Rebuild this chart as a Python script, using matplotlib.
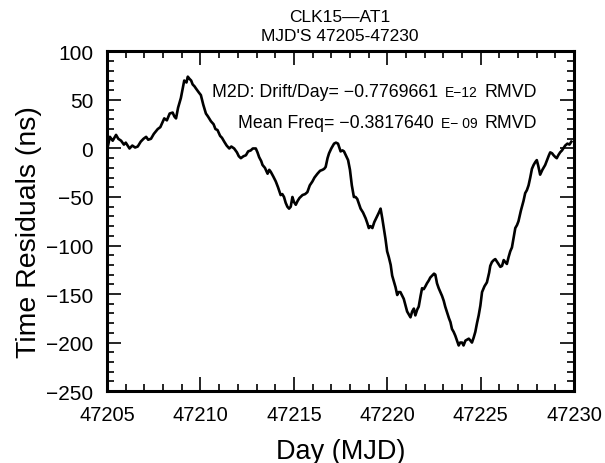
import matplotlib.pyplot as plt
from matplotlib.offsetbox import TextArea, HPacker, AnnotationBbox
from matplotlib.ticker import MultipleLocator

plt.rcParams['font.family'] = ['Liberation Sans', 'DejaVu Sans']

# days after MJD 47205
day = [0.05, 0.15, 0.3, 0.48, 0.6, 0.75, 0.9, 1.0, 1.2, 1.35, 1.5, 1.64, 1.8, 1.95,
       2.09, 2.2, 2.35, 2.5, 2.71, 2.85, 3.06, 3.2, 3.35, 3.51, 3.6, 3.69, 3.8, 3.95,
       4.05, 4.13, 4.25, 4.32, 4.4, 4.5, 4.58, 4.68, 4.75, 4.9, 5.02, 5.15, 5.29, 5.4,
       5.56, 5.7, 5.8, 5.91, 6.05, 6.15, 6.27, 6.4, 6.54, 6.65, 6.8, 6.95, 7.05, 7.16,
       7.3, 7.43, 7.55, 7.69, 7.8, 7.96, 8.05, 8.14, 8.25, 8.32, 8.45, 8.59, 8.68, 8.76,
       8.9, 9.03, 9.15, 9.29, 9.38, 9.47, 9.56, 9.65, 9.74, 9.83, 9.92, 10.0, 10.1, 10.2,
       10.3, 10.46, 10.6, 10.72, 10.85, 10.99, 11.1, 11.26, 11.4, 11.53, 11.62, 11.7,
       11.8, 11.88, 12.0, 12.15, 12.25, 12.36, 12.45, 12.5, 12.6, 12.68, 12.8, 12.9,
       13.0, 13.1, 13.21, 13.3, 13.39, 13.5, 13.57, 13.7, 13.84, 13.93, 14.01, 14.1,
       14.2, 14.3, 14.45, 14.55, 14.64, 14.73, 14.9, 14.99, 15.08, 15.18, 15.26, 15.35,
       15.44, 15.53, 15.6, 15.7, 15.8, 15.88, 15.98, 16.06, 16.15, 16.24, 16.33, 16.42,
       16.5, 16.6, 16.68, 16.78, 16.86, 16.95, 17.04, 17.12, 17.22, 17.3, 17.4, 17.5,
       17.57, 17.66, 17.75, 17.84, 17.93, 18.02, 18.1, 18.2, 18.3, 18.38, 18.46, 18.55,
       18.64, 18.73, 18.82, 18.9, 19.0, 19.08, 19.18, 19.27, 19.36, 19.45, 19.53, 19.62,
       19.71, 19.8, 19.89, 19.98, 20.07, 20.2, 20.33, 20.45, 20.51, 20.6, 20.7, 20.78,
       20.88, 20.95, 21.05, 21.14, 21.23, 21.31, 21.4, 21.49, 21.58, 21.67, 21.76, 21.85,
       21.94, 22.02, 22.15, 22.29, 22.38, 22.47, 22.56, 22.65, 22.74, 22.83, 22.92, 23.0,
       23.08, 23.18, 23.3, 23.45, 23.55, 23.65, 23.72, 23.82, 23.9, 24.0, 24.07, 24.15,
       24.25, 24.35, 24.45, 24.52, 24.64, 24.75, 24.85]
resid = [3, 12, 8, 14, 10, 8, 4, 6, 0, 3, 1, 2, 7, 10,
         12, 9, 10, 15, 20, 22, 31, 29, 36, 37, 33, 31, 42, 52,
         62, 70, 68, 74, 72, 70, 66, 64, 62, 58, 55, 45, 36, 33,
         28, 25, 20, 19, 13, 11, 7, 3, 0, 2, 0, -4, -8, -10,
         -8, -7, -3, -2, 0, 0, -4, -9, -13, -17, -20, -26, -22, -24,
         -29, -34, -40, -48, -47, -50, -56, -60, -62, -60, -50, -55, -58, -54,
         -51, -48, -47, -45, -38, -34, -30, -26, -23, -22, -21, -19,
         -10, -5, 0, 5, 6, 5, 0, -3, -2, -3, -8, -12,
         -22, -38, -50, -50, -52, -58, -62, -66, -72, -77, -82, -80,
         -82, -76, -70, -66, -62, -72, -93, -106, -112, -120, -131, -137,
         -143, -151, -148, -148, -152, -155, -162, -168, -171, -174, -168, -165,
         -172, -166, -163, -152, -144, -145, -142, -139, -136, -133, -131, -129,
         -130, -139, -144, -148, -152, -157, -163, -169, -175, -179, -186, -189,
         -193, -198, -203, -200, -200, -203, -198, -197, -196, -198, -200, -195,
         -189, -180, -172, -162, -148, -142, -138, -128, -121, -117, -115, -114,
         -117, -119, -122, -121, -115, -117, -119, -112, -106, -102, -92, -82,
         -79, -75, -64, -54, -46, -43, -38, -30, -21, -17, -14, -12,
         -18, -27, -22, -17, -12, -7, -4, -5, -7, -9, -10, -7,
         -4, -2, 1, 3, 5, 4, 7]

mjd0 = 47205
x = [mjd0 + d for d in day]

fig = plt.figure(figsize=(6.05, 4.64), dpi=100)
ax = fig.add_axes([0.177, 0.155, 0.772, 0.732])

ax.plot(x, resid, color='black', lw=1.9)

ax.set_xlim(47205, 47230)
ax.set_ylim(-250, 100)
ax.xaxis.set_major_locator(MultipleLocator(5))
ax.xaxis.set_minor_locator(MultipleLocator(1))
ax.yaxis.set_major_locator(MultipleLocator(50))
ax.yaxis.set_minor_locator(MultipleLocator(10))
ax.tick_params(which='both', direction='in', top=True, right=True, width=1.2)
ax.tick_params(which='major', length=10)
ax.tick_params(which='minor', length=5)
ax.tick_params(axis='x', pad=10, labelsize=14.5)
ax.tick_params(axis='y', pad=10, labelsize=15)
for s in ax.spines.values():
    s.set_linewidth(2.2)

ax.set_xlabel('Day (MJD)', fontsize=19.5, labelpad=10)
ax.set_ylabel('Time Residuals (ns)', fontsize=20.5)
ax.yaxis.set_label_coords(-0.14, 0.47)

fig.text(0.562, 0.962, 'CLK15\u2014AT1', ha='center', va='center', fontsize=12.5)
fig.text(0.562, 0.921, "MJD'S 47205-47230", ha='center', va='center', fontsize=12.5)

# annotation lines with smaller exponent text
lines = [('M2D: Drift/Day= \u22120.7769661', 'E\u221212', 'RMVD', 0.882),
         ('Mean Freq= \u22120.3817640', 'E\u2212 09', 'RMVD', 0.79)]
for main, expo, unit, yy in lines:
    box = HPacker(children=[TextArea(main, textprops=dict(size=12.8)),
                            TextArea(expo, textprops=dict(size=10)),
                            TextArea(unit, textprops=dict(size=12.8))],
                  align='baseline', pad=0, sep=5)
    ab = AnnotationBbox(box, (0.921, yy), xycoords='axes fraction',
                        box_alignment=(1, 0.5), frameon=False)
    ax.add_artist(ab)

fig.savefig('out.png', dpi=100)
